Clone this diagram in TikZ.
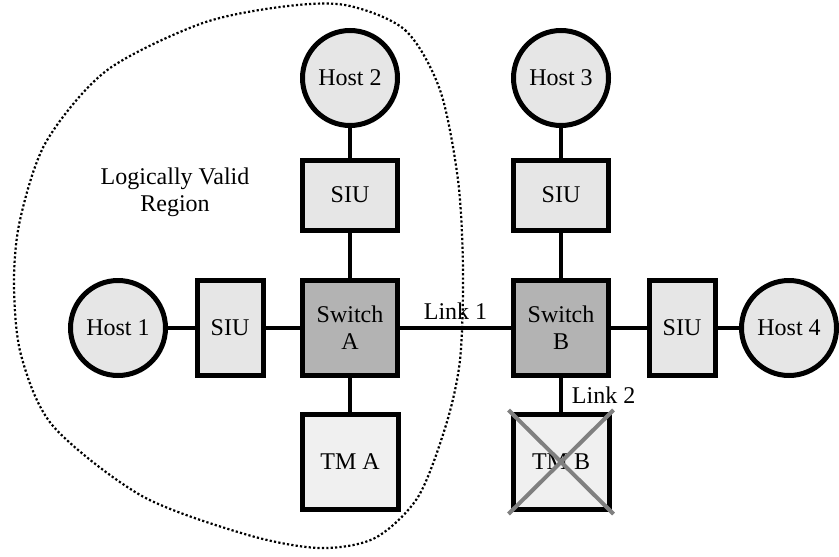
\documentclass[tikz,border=0pt]{standalone}
\usepackage{fontspec}
\setmainfont{Liberation Serif}
\usetikzlibrary{shapes.geometric, positioning}
\definecolor{hostfill}{HTML}{E6E6E6}
\definecolor{siufill}{HTML}{E6E6E6}
\definecolor{switchfill}{HTML}{B3B3B3}
\definecolor{tmfill}{HTML}{F0F0F0}
\tikzstyle{host} = [circle, draw=black, line width=2.5pt, fill=hostfill, minimum size=47.5pt, inner sep=0pt]
\tikzstyle{siuside} = [rectangle, draw=black, line width=2.5pt, fill=siufill, minimum width=33pt, minimum height=47.5pt, inner sep=0pt]
\tikzstyle{siutop} = [rectangle, draw=black, line width=2.5pt, fill=siufill, minimum width=47.5pt, minimum height=35pt, inner sep=0pt]
\tikzstyle{switch} = [rectangle, draw=black, line width=2.5pt, fill=switchfill, minimum width=47.5pt, minimum height=47.5pt, inner sep=0pt, align=center]
\tikzstyle{tm} = [rectangle, draw=black, line width=2.5pt, fill=tmfill, minimum width=48pt, minimum height=47.5pt, inner sep=0pt]
\tikzstyle{link} = [line width=2.3pt]

\begin{document}
\begin{tikzpicture}[
    x=0.5pt, y=-0.5pt,
    every node/.style={font=\fontsize{12}{13.5}\selectfont},
    region/.style={line width=1.1pt, dash pattern=on 1.1pt off 1.1pt},
    cross/.style={line width=2pt, color=gray}
]
\useasboundingbox (0,0) rectangle (839,556);

% Nodes
\node (host2) [host] at (350,78) {Host 2};
\node (host3) [host] at (561,78) {Host 3};
\node (siu2) [siutop] at (350,195) {SIU};
\node (siu3) [siutop] at (561,195) {SIU};
\node (host1) [host] at (118,328) {Host 1};
\node (siu1) [siuside] at (230,328) {SIU};
\node (switchA) [switch] at (350,328) {Switch\\A};
\node (switchB) [switch] at (561,328) {Switch\\B};
\node (siu4) [siuside] at (682,328) {SIU};
\node (host4) [host] at (789,328) {Host 4};
\node (tmA) [tm] at (350,462) {TM A};
\node (tmB) [tm] at (561,462) {TM B};
\node (regionlabel) [align=center] at (175,192) {Logically Valid\\Region};

% Links
\draw [link] (host2) -- (siu2);
\draw [link] (siu2) -- (switchA);
\draw [link] (host3) -- (siu3);
\draw [link] (siu3) -- (switchB);
\draw [link] (host1) -- (siu1);
\draw [link] (siu1) -- (switchA);
\draw [link] (switchA) -- node[above] {Link 1} (switchB);
\draw [link] (switchB) -- (siu4);
\draw [link] (siu4) -- (host4);
\draw [link] (switchA) -- (tmA);
\draw [link] (switchB) -- node[right, xshift=1pt] {Link 2} (tmB);

% Failed TM
\draw [cross] ([shift={(-1pt,1pt)}]tmB.north west) -- ([shift={(1pt,-1pt)}]tmB.south east);
\draw [cross] ([shift={(1pt,1pt)}]tmB.north east) -- ([shift={(-1pt,-1pt)}]tmB.south west);

% Region
\draw [region] plot [smooth cycle] coordinates {(345,5) (405,30) (440,90) (458,180) (463,270) (460,360) (446,425) (418,497) (375,538) (320,548) (248,535) (142,496) (53,426) (21,355) (14,284) (20,220) (46,142) (106,71) (200,24) (280,7)};

\end{tikzpicture}
\end{document}
